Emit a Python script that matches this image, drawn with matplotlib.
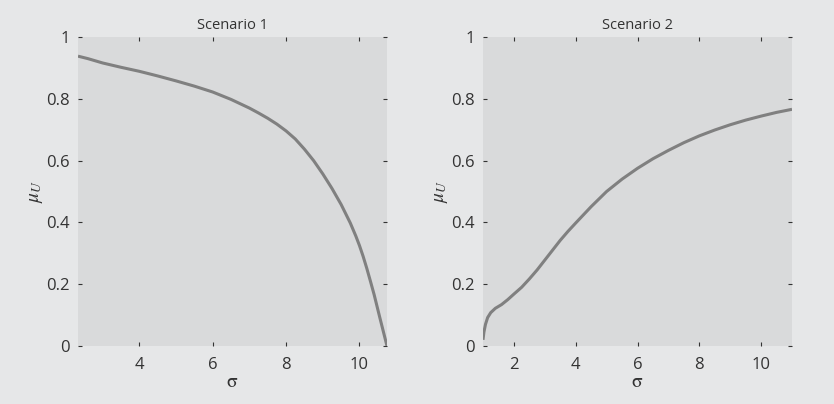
import matplotlib
matplotlib.use("Agg")
import matplotlib.pyplot as plt

# Scenario 1 data (sigma, mu_U)
sigma1 = [2.33, 2.6, 3.0, 3.5, 4.0, 4.5, 5.0, 5.5, 6.0, 6.5, 7.0, 7.25, 7.5, 7.75,
          8.0, 8.25, 8.5, 8.75, 9.0, 9.25, 9.5, 9.75, 9.9, 10.0, 10.1, 10.2, 10.3,
          10.4, 10.55, 10.65, 10.75]
mu1 = [0.938, 0.930, 0.916, 0.902, 0.889, 0.874, 0.858, 0.841, 0.822, 0.798, 0.770,
       0.754, 0.737, 0.718, 0.696, 0.670, 0.637, 0.600, 0.557, 0.510, 0.458, 0.398,
       0.356, 0.325, 0.290, 0.251, 0.209, 0.166, 0.094, 0.047, 0.0]

# Scenario 2 data (sigma, mu_U)
sigma2 = [1.0, 1.03, 1.08, 1.15, 1.25, 1.4, 1.6, 1.8, 2.0, 2.25, 2.5, 2.75, 3.0, 3.25,
          3.5, 3.75, 4.0, 4.5, 5.0, 5.5, 6.0, 6.5, 7.0, 7.5, 8.0, 8.5, 9.0, 9.5, 10.0,
          10.5, 11.0]
mu2 = [0.020, 0.045, 0.070, 0.092, 0.108, 0.122, 0.134, 0.150, 0.168, 0.190, 0.217,
       0.246, 0.278, 0.310, 0.342, 0.371, 0.398, 0.451, 0.500, 0.540, 0.575, 0.606,
       0.633, 0.658, 0.680, 0.699, 0.716, 0.731, 0.744, 0.756, 0.766]

titles = ["Scenario 1", "Scenario 2"]
xlims = [(2.33, 10.75), (1.0, 11.0)]
xticks = [[4, 6, 8, 10], [2, 4, 6, 8, 10]]
yticks = [0, 0.2, 0.4, 0.6, 0.8, 1]
ytick_labels = ["0", "0.2", "0.4", "0.6", "0.8", "1"]

plt.rcParams['font.family'] = ['Open Sans', 'DejaVu Sans']
plt.rcParams['mathtext.fontset'] = 'stix'

fig = plt.figure(figsize=(8.34, 4.04), dpi=100, facecolor='#e6e7e8')
positions = [[78 / 834, 58 / 404, 309 / 834, 309 / 404],
             [483 / 834, 58 / 404, 309 / 834, 309 / 404]]

data = [(sigma1, mu1), (sigma2, mu2)]
for i in range(2):
    ax = fig.add_axes(positions[i])
    ax.set_facecolor('#d9dadb')
    x, y = data[i]
    ax.plot(x, y, color='#808080', lw=2.2, solid_capstyle='butt', solid_joinstyle='round')
    ax.set_xlim(*xlims[i])
    ax.set_ylim(0, 1)
    ax.set_xticks(xticks[i])
    ax.set_yticks(yticks)
    ax.set_yticklabels(ytick_labels)
    for s in ax.spines.values():
        s.set_visible(False)
    ax.tick_params(direction='in', length=3, width=0.8, color='#333333',
                   top=True, right=True, labelsize=12, labelcolor='#333333', pad=6)
    ax.tick_params(axis='x', pad=8)
    ax.set_title(titles[i], fontsize=10.5, color='#333333', pad=6)
    ax.set_xlabel(r'$\mathrm{\sigma}$', fontsize=14, color='#333333', labelpad=0)
    ax.set_ylabel(r'$\mu_U$', fontsize=14, color='#333333', labelpad=1)

fig.savefig('out.png', dpi=100, facecolor=fig.get_facecolor())
